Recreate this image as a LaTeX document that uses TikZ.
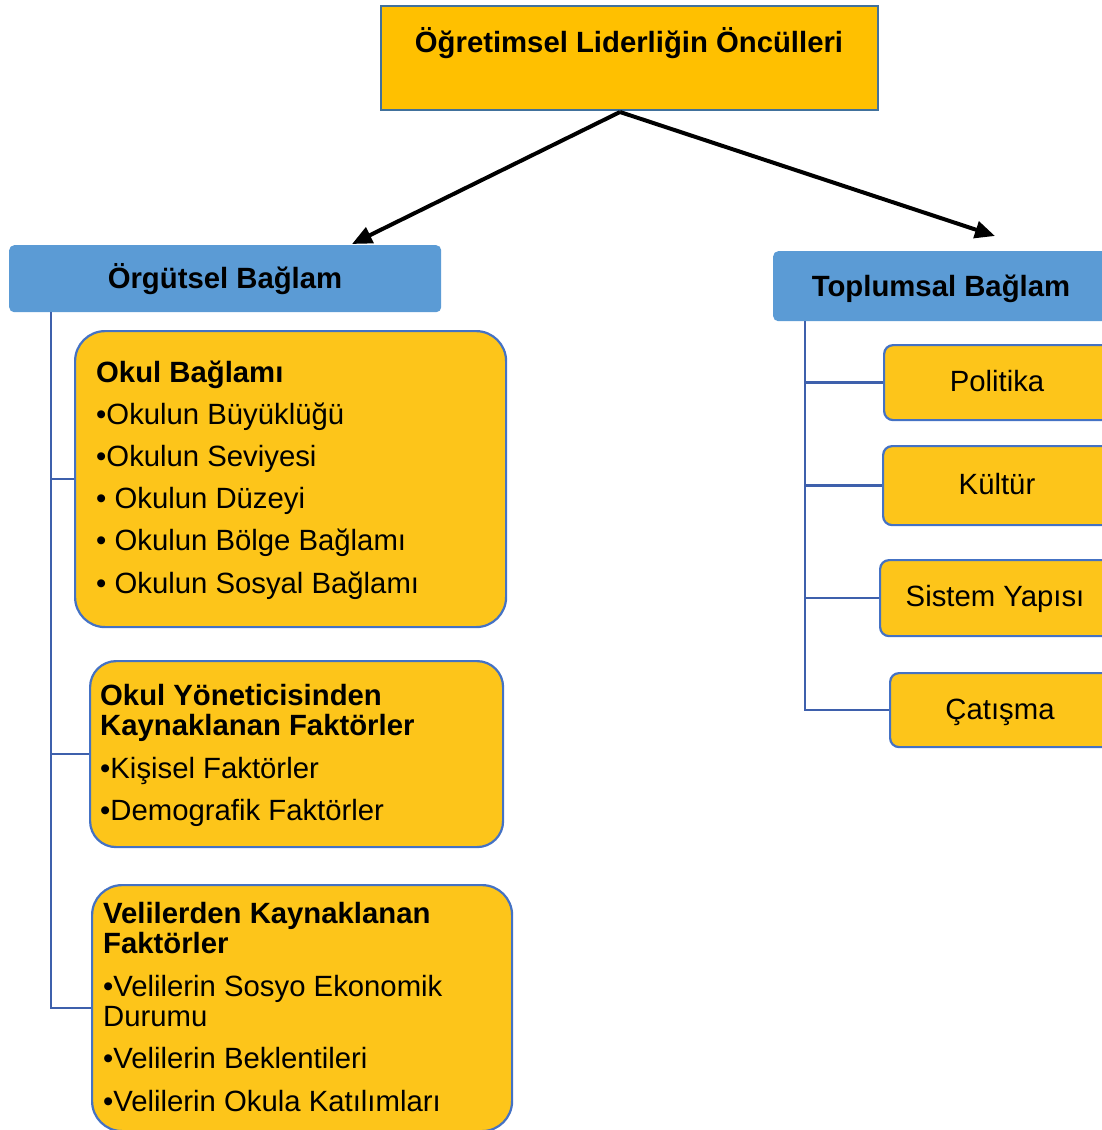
\documentclass[tikz,border=0pt]{standalone}
\usepackage{fontspec}
\setmainfont{Liberation Sans}
\usetikzlibrary{arrows.meta}
\definecolor{gold}{HTML}{FFC000}
\definecolor{amber}{HTML}{FDC51A}
\definecolor{hdrblue}{HTML}{5B9BD5}
\definecolor{edgeblue}{HTML}{4472C4}
\definecolor{linkblue}{HTML}{3E60AC}
\definecolor{slate}{HTML}{41719C}

\begin{document}
\begin{tikzpicture}[x=1pt,y=-1pt,
  rootbox/.style={draw=slate, line width=2pt, fill=gold, anchor=north west, inner sep=0pt},
  header/.style={fill=hdrblue, rounded corners=5pt, anchor=north west, inner sep=0pt},
  itembox/.style={draw=edgeblue, line width=2.2pt, fill=amber, rounded corners=#1, anchor=north west, inner sep=0pt},
  txt/.style={anchor=base west, inner sep=0pt, font=\fontsize{29.3}{30}\selectfont},
  ctxt/.style={anchor=base, inner sep=0pt, font=\fontsize{29.3}{30}\selectfont},
  link/.style={draw=linkblue, line width=2.4pt},
  arrow/.style={line width=4pt, -{Triangle[length=20pt,width=17pt]}}]

\path[use as bounding box] (0,0) rectangle (1102,1130);
\clip (0,0) rectangle (1102,1130);

% root
\node[rootbox, minimum width=497pt, minimum height=104pt] (root) at (380,5) {};
\node[ctxt] (rootlbl) at (629,52) {\textbf{Öğretimsel Liderliğin Öncülleri}};

% the two contexts
\node[header, minimum width=432pt, minimum height=67pt] (org) at (9,245) {};
\node[ctxt] (orglbl) at (225,288) {\textbf{Örgütsel Bağlam}};
\node[header, minimum width=345pt, minimum height=70pt] (soc) at (773,251) {};
\node[ctxt] (soclbl) at (941,296) {\textbf{Toplumsal Bağlam}};

% arrows from the root
\coordinate (split) at (620,112);
\coordinate (orgtip) at (352,244);
\coordinate (soctip) at (995,236);
\draw[arrow] (split) -- (orgtip);
\draw[arrow] (split) -- (soctip);

% organisational factors
\node[itembox=30pt, minimum width=431pt, minimum height=296pt] (b1) at (74,330) {};
\node[itembox=26pt, minimum width=413pt, minimum height=186pt] (b2) at (89,660) {};
\node[itembox=30pt, minimum width=420pt, minimum height=246pt] (b3) at (91,884) {};

\foreach \y/\t [count=\i] in {382/\textbf{Okul Bağlamı}, 424/•Okulun Büyüklüğü, 466/•Okulun Seviyesi,
    508/• Okulun Düzeyi, 550/• Okulun Bölge Bağlamı, 593/• Okulun Sosyal Bağlamı}
  \node[txt] (b1l\i) at (96,\y) {\t};

\foreach \y/\t [count=\i] in {705/\textbf{Okul Yöneticisinden}, 735/\textbf{Kaynaklanan Faktörler},
    778/•Kişisel Faktörler, 820/•Demografik Faktörler}
  \node[txt] (b2l\i) at (100,\y) {\t};

\foreach \y/\t [count=\i] in {923/\textbf{Velilerden Kaynaklanan}, 953/\textbf{Faktörler},
    996/•Velilerin Sosyo Ekonomik, 1026/Durumu, 1068/•Velilerin Beklentileri,
    1111/•Velilerin Okula Katılımları}
  \node[txt] (b3l\i) at (103,\y) {\t};

\coordinate (ltrunk) at (51,312);
\draw[link] (ltrunk) |- (b3.west);
\draw[link] (ltrunk |- b1.west) -- (b1.west);
\draw[link] (ltrunk |- b2.west) -- (b2.west);

% societal factors
\node[itembox=9pt, minimum width=240pt, minimum height=75pt] (r1) at (883,344) {};
\node[itembox=9pt, minimum width=240pt, minimum height=79pt] (r2) at (882,445) {};
\node[itembox=9pt, minimum width=240pt, minimum height=76pt] (r3) at (879,559) {};
\node[itembox=9pt, minimum width=240pt, minimum height=74pt] (r4) at (889,672) {};
\node[ctxt] (r1l) at (997,391) {Politika};
\node[ctxt] (r2l) at (997,494) {Kültür};
\node[ctxt] (r3l) at (995,606) {Sistem Yapısı};
\node[ctxt] (r4l) at (1000,719) {Çatışma};

\coordinate (rtrunk) at (805,321);
\draw[link] (rtrunk) |- (r4.west);
\draw[link] (rtrunk |- r1.west) -- (r1.west);
\draw[link] (rtrunk |- r2.west) -- (r2.west);
\draw[link] (rtrunk |- r3.west) -- (r3.west);
\end{tikzpicture}
\end{document}
